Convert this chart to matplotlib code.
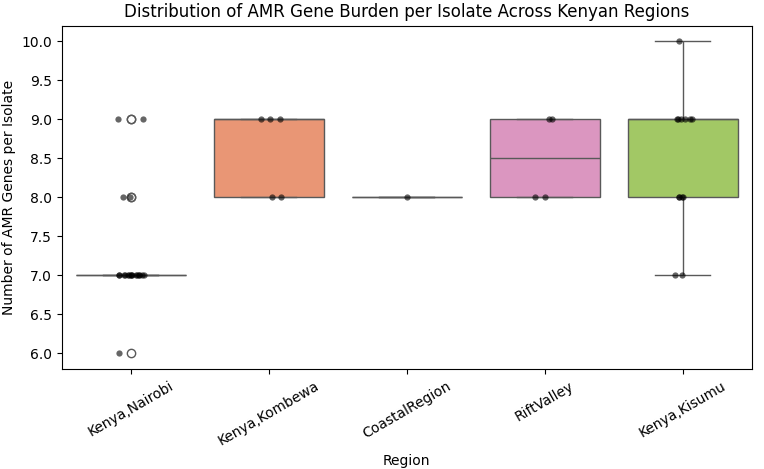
import numpy as np
import pandas as pd
import matplotlib
matplotlib.use("Agg")
import matplotlib.pyplot as plt
import seaborn as sns

np.random.seed(7)

# AMR gene counts per isolate, by region
regions = ["Kenya,Nairobi", "Kenya,Kombewa", "CoastalRegion", "RiftValley", "Kenya,Kisumu"]
nairobi = [6] + [7] * 15 + [8, 8, 9, 9]
kombewa = [8, 8, 9, 9, 9]
coastal = [8]
rift_valley = [8, 8, 9, 9]
kisumu = [7, 7, 8, 8, 8, 8, 9, 9, 9, 9, 9, 9, 10]

values = [nairobi, kombewa, coastal, rift_valley, kisumu]
df = pd.DataFrame({
    "Region": [r for r, v in zip(regions, values) for _ in v],
    "AMR": [x for v in values for x in v],
})

fig, ax = plt.subplots(figsize=(7.64, 4.69), dpi=100)
fig.subplots_adjust(left=0.081, right=0.984, top=0.945, bottom=0.213)

sns.boxplot(data=df, x="Region", y="AMR", hue="Region", order=regions,
            palette="Set2", legend=False, ax=ax,
            flierprops=dict(markersize=6))
sns.stripplot(data=df, x="Region", y="AMR", order=regions, color="black",
              alpha=0.6, jitter=True, size=4.5, ax=ax)

ax.set_title("Distribution of AMR Gene Burden per Isolate Across Kenyan Regions", fontsize=12)
ax.set_xlabel("Region", fontsize=10)
ax.set_ylabel("Number of AMR Genes per Isolate", fontsize=10)
ax.tick_params(labelsize=10)
plt.setp(ax.get_xticklabels(), rotation=30)

fig.savefig("out.png", dpi=100)
